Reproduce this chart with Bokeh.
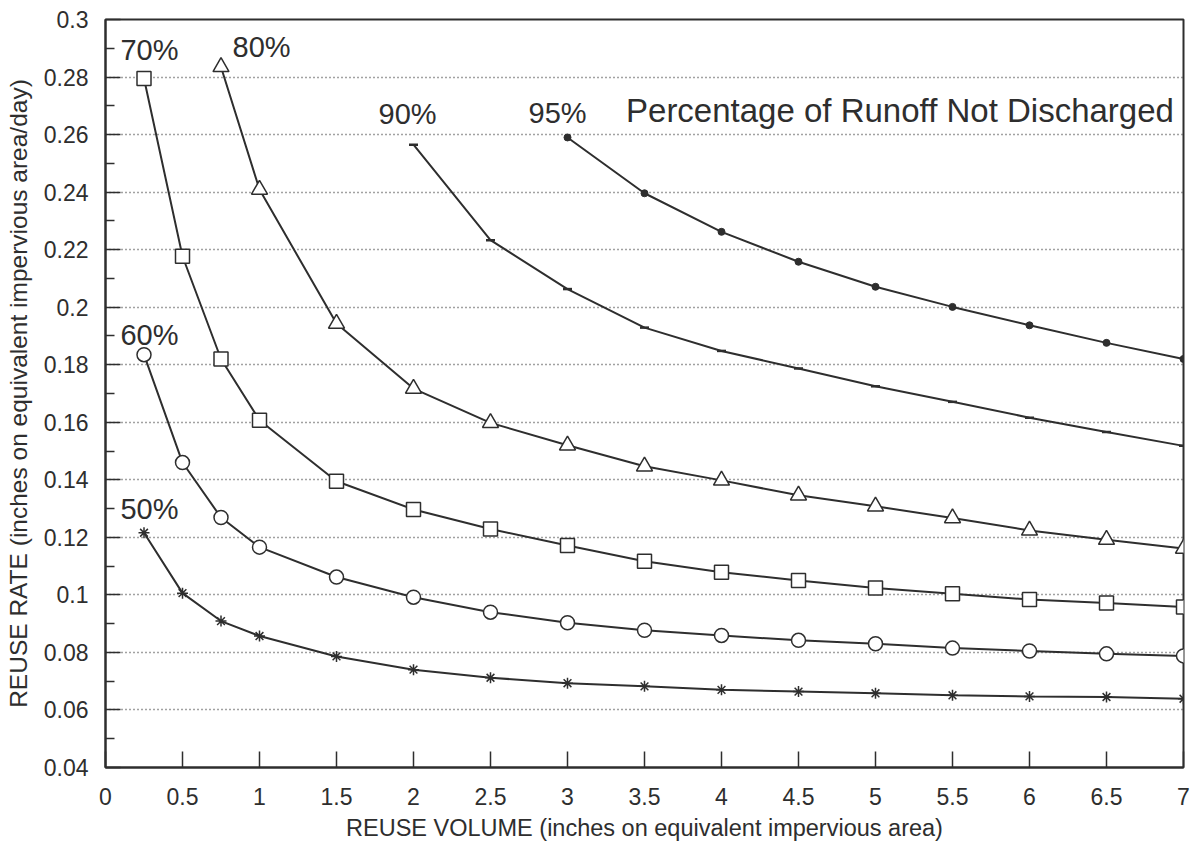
from bokeh.plotting import figure
from bokeh.models import FixedTicker, Range1d, Label
from bokeh.embed import file_html
from bokeh.resources import INLINE

# ---- data ----
x_full = [0.25, 0.5, 0.75, 1, 1.5, 2, 2.5, 3, 3.5, 4, 4.5, 5, 5.5, 6, 6.5, 7]
y50 = [0.1216, 0.1006, 0.0909, 0.0857, 0.0786, 0.0740, 0.0712, 0.0693, 0.0682,
       0.0670, 0.0664, 0.0658, 0.0651, 0.0647, 0.0645, 0.0639]
y60 = [0.1835, 0.1460, 0.1269, 0.1166, 0.1062, 0.0992, 0.0940, 0.0903, 0.0877,
       0.0859, 0.0842, 0.0830, 0.0815, 0.0805, 0.0795, 0.0788]
y70 = [0.2795, 0.2177, 0.1820, 0.1607, 0.1395, 0.1297, 0.1229, 0.1172, 0.1117,
       0.1079, 0.1050, 0.1024, 0.1004, 0.0984, 0.0972, 0.0958]
x80 = [0.75, 1, 1.5, 2, 2.5, 3, 3.5, 4, 4.5, 5, 5.5, 6, 6.5, 7]
y80 = [0.2835, 0.2409, 0.1943, 0.1717, 0.1598, 0.1520, 0.1447, 0.1398, 0.1346,
       0.1308, 0.1267, 0.1224, 0.1192, 0.1161]
x90 = [2, 2.5, 3, 3.5, 4, 4.5, 5, 5.5, 6, 6.5, 7]
y90 = [0.2565, 0.2233, 0.2063, 0.1929, 0.1848, 0.1787, 0.1725, 0.1671, 0.1616,
       0.1566, 0.1518]
x95 = [3, 3.5, 4, 4.5, 5, 5.5, 6, 6.5, 7]
y95 = [0.2590, 0.2396, 0.2262, 0.2158, 0.2071, 0.2001, 0.1937, 0.1876, 0.1820]

x_ticks = [0, 0.5, 1, 1.5, 2, 2.5, 3, 3.5, 4, 4.5, 5, 5.5, 6, 6.5, 7]
x_tick_labels = ["0", "0.5", "1", "1.5", "2", "2.5", "3", "3.5", "4", "4.5",
                 "5", "5.5", "6", "6.5", "7"]
y_ticks = [0.04, 0.06, 0.08, 0.10, 0.12, 0.14, 0.16, 0.18, 0.20, 0.22, 0.24,
           0.26, 0.28, 0.30]
y_tick_labels = ["0.04", "0.06", "0.08", "0.1", "0.12", "0.14", "0.16", "0.18",
                 "0.2", "0.22", "0.24", "0.26", "0.28", "0.3"]
y_minor = [0.05, 0.07, 0.09, 0.11, 0.13, 0.15, 0.17, 0.19, 0.21, 0.23, 0.25,
           0.27, 0.29]

series_labels = ["50%", "60%", "70%", "80%", "90%", "95%"]
label_x = [0.097, 0.097, 0.097, 0.825, 1.773, 2.747]
label_y = [0.1300, 0.1903, 0.2894, 0.2905, 0.2671, 0.2676]
title_text = "Percentage of Runoff Not Discharged"
title_x, title_y = 3.38, 0.2684

FONT = "Liberation Sans"
INK = "#2e2e2e"

p = figure(width=1192, height=846, output_backend="svg", toolbar_location=None,
           x_range=Range1d(0, 7), y_range=Range1d(0.04, 0.3),
           min_border_left=105, min_border_right=9, min_border_top=19,
           min_border_bottom=79)
p.background_fill_color = "white"
p.border_fill_color = "white"
p.outline_line_color = INK
p.outline_line_width = 2

# axes
p.xaxis.ticker = FixedTicker(ticks=x_ticks)
p.xaxis.major_label_overrides = {t: s for t, s in zip(x_ticks, x_tick_labels)}
p.yaxis.ticker = FixedTicker(ticks=y_ticks, minor_ticks=y_minor)
p.yaxis.major_label_overrides = {t: s for t, s in zip(y_ticks, y_tick_labels)}

for ax in (p.xaxis, p.yaxis):
    ax.axis_line_color = INK
    ax.axis_line_width = 2
    ax.major_tick_line_color = INK
    ax.major_tick_line_width = 1.5
    ax.major_tick_out = 0
    ax.minor_tick_out = 0
    ax.major_label_text_font = FONT
    ax.major_label_text_font_size = "23px"
    ax.major_label_text_color = INK
    ax.axis_label_text_font = FONT
    ax.axis_label_text_font_style = "normal"
    ax.axis_label_text_color = INK

p.xaxis.major_tick_in = 16
p.xaxis.minor_tick_line_color = None
p.xaxis.major_label_standoff = 20
p.xaxis.axis_label_standoff = 7
p.xaxis.axis_label_text_font_size = "23.5px"
p.xaxis.axis_label = "REUSE VOLUME (inches on equivalent impervious area)"

p.yaxis.major_tick_in = 15
p.yaxis.minor_tick_in = 9
p.yaxis.minor_tick_line_color = INK
p.yaxis.minor_tick_line_width = 1.5
p.yaxis.major_label_standoff = 17
p.yaxis.axis_label_standoff = 9
p.yaxis.axis_label_text_font_size = "24.5px"
p.yaxis.axis_label = "REUSE RATE (inches on equivalent impervious area/day)"

# grid
p.xgrid.grid_line_color = None
p.ygrid.grid_line_color = "#444444"
p.ygrid.grid_line_width = 1.5
p.ygrid.grid_line_dash = "1 3"

# series
LW = 2
p.line(x_full, y50, line_color=INK, line_width=LW)
p.scatter(x_full, y50, marker="asterisk", size=11, line_color=INK, line_width=1.5)

p.line(x_full, y60, line_color=INK, line_width=LW)
p.scatter(x_full, y60, marker="circle", size=14, line_color=INK, line_width=1.5,
          fill_color="white")

p.line(x_full, y70, line_color=INK, line_width=LW)
p.scatter(x_full, y70, marker="square", size=14, line_color=INK, line_width=1.5,
          fill_color="white")

p.line(x80, y80, line_color=INK, line_width=LW)
p.scatter(x80, y80, marker="triangle", size=16, line_color=INK, line_width=1.5,
          fill_color="white")

p.line(x90, y90, line_color=INK, line_width=LW)
p.scatter(x90, y90, marker="dash", size=9, line_color=INK, line_width=2.5)

p.line(x95, y95, line_color=INK, line_width=LW)
p.scatter(x95, y95, marker="circle", size=7, line_color=INK, fill_color=INK)

# series labels
for s, lx, ly in zip(series_labels, label_x, label_y):
    p.add_layout(Label(x=lx, y=ly, text=s, text_font=FONT, text_font_size="29px",
                       text_color=INK, text_align="left", text_baseline="alphabetic"))

p.add_layout(Label(x=title_x, y=title_y, text=title_text, text_font=FONT,
                   text_font_size="33px", text_color=INK, text_align="left",
                   text_baseline="alphabetic"))

open("out.html", "w").write(file_html(p, INLINE))
